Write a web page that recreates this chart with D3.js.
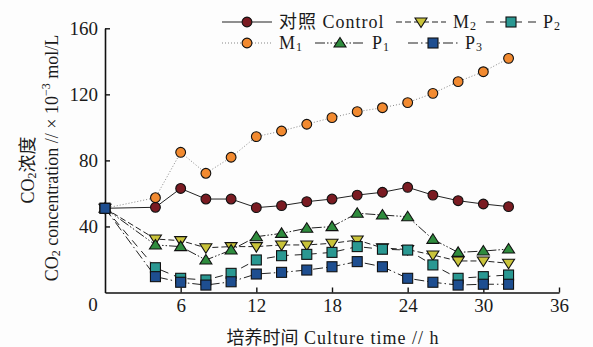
<!DOCTYPE html>
<html>
<head>
<meta charset="utf-8">
<script src="https://cdn.jsdelivr.net/npm/d3@7"></script>
<style>
  body { margin: 0; background: #fdfdfd; }
  svg text { font-family: "Liberation Serif", "Noto Sans CJK SC", serif; fill: #1a1a1a; }
</style>
</head>
<body>
<svg id="chart"></svg>
<script>
// culture time (h) and CO2 concentration readings (x10^-3 mol/L)
var times   = [0, 4, 6, 8, 10, 12, 14, 16, 18, 20, 22, 24, 26, 28, 30, 32];
var control = [51, 51.6, 63, 56.6, 56.6, 51.4, 52.6, 55, 56.6, 59, 60.7, 63.7, 59, 55.6, 53.6, 52];
var m1      = [51, 57.4, 84.9, 72.2, 81.9, 94.4, 97.8, 101.9, 105.9, 109.5, 111.9, 115, 120.6, 127.7, 133.7, 141.8];
var m2      = [51, 32.4, 31.4, 27.1, 27.8, 27.8, 28.8, 28.8, 29.8, 31.8, 27, 26, 22.7, 19.1, 19.1, 17.7];
var p1      = [51, 28.8, 27.8, 19.7, 25.7, 33.8, 35.8, 38.9, 39.9, 48, 46.9, 45.9, 32.2, 24.3, 25.1, 26.3];
var p2      = [51, 15, 8.6, 7.6, 11.6, 19.7, 22.3, 23.1, 24.3, 27.8, 26.2, 25.7, 16.7, 8.6, 9.6, 10.6];
var p3      = [51, 9.6, 6.2, 4.5, 6.5, 11.2, 12.2, 13.6, 15.6, 18.7, 15.6, 8.6, 6.2, 4.5, 5, 5];

var xTicks = [6, 12, 18, 24, 30, 36];
var yTicks = [40, 80, 120, 160];

// legend order: row 1 then row 2
var names = [["对照 Control", ""], ["M", "2"], ["P", "2"], ["M", "1"], ["P", "1"], ["P", "3"]];
var values = [control, m2, p2, m1, p1, p3];

// look of each series (same order as names)
var looks = [
  {fill: "#7a1b22", shape: "circle", dash: null,              line: "#222"},
  {fill: "#c9c33a", shape: "down",   dash: "6,3",             line: "#222"},
  {fill: "#2a9892", shape: "square", dash: "8,6",             line: "#222"},
  {fill: "#f28a30", shape: "circle", dash: "1,2",             line: "#888"},
  {fill: "#2f8c3e", shape: "up",     dash: "10,2,1.5,2,1.5,2", line: "#222"},
  {fill: "#1e4e90", shape: "square", dash: "10,3,1.5,3",      line: "#222"}
];
var drawOrder = [0, 3, 1, 4, 2, 5];

// where each legend entry starts
var legendX = [222, 396, 486, 222, 315, 408];
var rowY = [22, 43];

var width = 593, height = 347;

var svg = d3.select("#chart")
    .attr("width", width)
    .attr("height", height);

var x = d3.scaleLinear().domain([0, 36]).range([105, 559]);
var y = d3.scaleLinear().domain([0, 160]).range([292.5, 28.3]);

var xAxis = d3.axisBottom(x).tickValues(xTicks).tickSizeInner(-5).tickSizeOuter(0).tickPadding(6);
var yAxis = d3.axisLeft(y).tickValues(yTicks).tickSizeInner(-5).tickSizeOuter(0).tickPadding(7);

var gx = svg.append("g")
    .attr("transform", "translate(0," + y(0) + ")")
    .call(xAxis);
var gy = svg.append("g")
    .attr("transform", "translate(" + x(0) + ",0)")
    .call(yAxis);

[gx, gy].forEach(function (g) {
  g.select(".domain").attr("stroke", "#111").attr("stroke-width", 1.6);
  g.selectAll(".tick line").attr("stroke", "#111").attr("stroke-width", 1.4);
  g.selectAll(".tick text")
    .style("font-family", '"Liberation Serif", serif')
    .style("font-size", "19px")
    .attr("fill", "#1a1a1a");
});

// shared origin label
svg.append("text")
    .attr("x", x(0) - 12)
    .attr("y", y(0) + 12)
    .attr("text-anchor", "middle")
    .attr("dominant-baseline", "central")
    .style("font-size", "19px")
    .text("0");

// axis titles
var xt = svg.append("text")
    .attr("x", 333)
    .attr("y", 338)
    .attr("text-anchor", "middle")
    .attr("dominant-baseline", "central")
    .style("font-size", "18px");
xt.append("tspan").text("培养时间");
xt.append("tspan").style("letter-spacing", "1px").text(" Culture time // h");

var yt1 = svg.append("text")
    .attr("transform", "translate(28,170) rotate(-90)")
    .attr("text-anchor", "middle")
    .attr("dominant-baseline", "central")
    .style("font-size", "18px");
yt1.append("tspan").text("CO");
yt1.append("tspan").attr("dy", 4).style("font-size", "12px").text("2");
yt1.append("tspan").attr("dy", -4).text("浓度");

var yt2 = svg.append("text")
    .attr("transform", "translate(52,158) rotate(-90)")
    .attr("text-anchor", "middle")
    .attr("dominant-baseline", "central")
    .style("font-size", "18px");
yt2.append("tspan").text("CO");
yt2.append("tspan").attr("dy", 4).style("font-size", "12px").text("2");
yt2.append("tspan").attr("dy", -4).text(" concentration // × 10");
yt2.append("tspan").attr("dy", -6).style("font-size", "12px").text("−3");
yt2.append("tspan").attr("dy", 6).text(" mol/L");

function marker(g, look, cx, cy) {
  if (look.shape === "circle") {
    g.append("circle").attr("cx", cx).attr("cy", cy).attr("r", 4.9);
  } else if (look.shape === "square") {
    g.append("rect").attr("x", cx - 5).attr("y", cy - 5).attr("width", 10).attr("height", 10);
  } else if (look.shape === "up") {
    g.append("path").attr("transform", "translate(" + cx + "," + cy + ")").attr("d", "M0,-5.5L6,4L-6,4Z");
  } else {
    g.append("path").attr("transform", "translate(" + cx + "," + cy + ")").attr("d", "M0,5.5L6,-4L-6,-4Z");
  }
}

var line = d3.line()
    .x(function (d, i) { return x(times[i]); })
    .y(function (d) { return y(d); });

// lines
drawOrder.forEach(function (k) {
  svg.append("path")
      .datum(values[k])
      .attr("d", line)
      .attr("fill", "none")
      .attr("stroke", looks[k].line)
      .attr("stroke-width", 1)
      .attr("stroke-dasharray", looks[k].dash);
});

// markers
drawOrder.forEach(function (k) {
  var g = svg.append("g")
      .attr("fill", looks[k].fill)
      .attr("stroke", "#111")
      .attr("stroke-width", 1.1);
  values[k].forEach(function (v, i) {
    marker(g, looks[k], x(times[i]), y(v));
  });
});

// legend
var legend = svg.append("g");
names.forEach(function (n, k) {
  var lx = legendX[k], ly = rowY[k < 3 ? 0 : 1];
  legend.append("line")
      .attr("x1", lx).attr("x2", lx + 50)
      .attr("y1", ly).attr("y2", ly)
      .attr("stroke", looks[k].line)
      .attr("stroke-width", 1.1)
      .attr("stroke-dasharray", looks[k].dash);
  var g = legend.append("g")
      .attr("fill", looks[k].fill)
      .attr("stroke", "#111")
      .attr("stroke-width", 1.1);
  marker(g, looks[k], lx + 25, ly);
  var t = legend.append("text")
      .attr("x", lx + 57)
      .attr("y", ly)
      .attr("dominant-baseline", "central")
      .style("font-size", "18px")
      .style("letter-spacing", "1px");
  t.append("tspan").text(n[0]);
  if (n[1]) t.append("tspan").attr("dy", 4).style("font-size", "12px").text(n[1]);
});
</script>
</body>
</html>
